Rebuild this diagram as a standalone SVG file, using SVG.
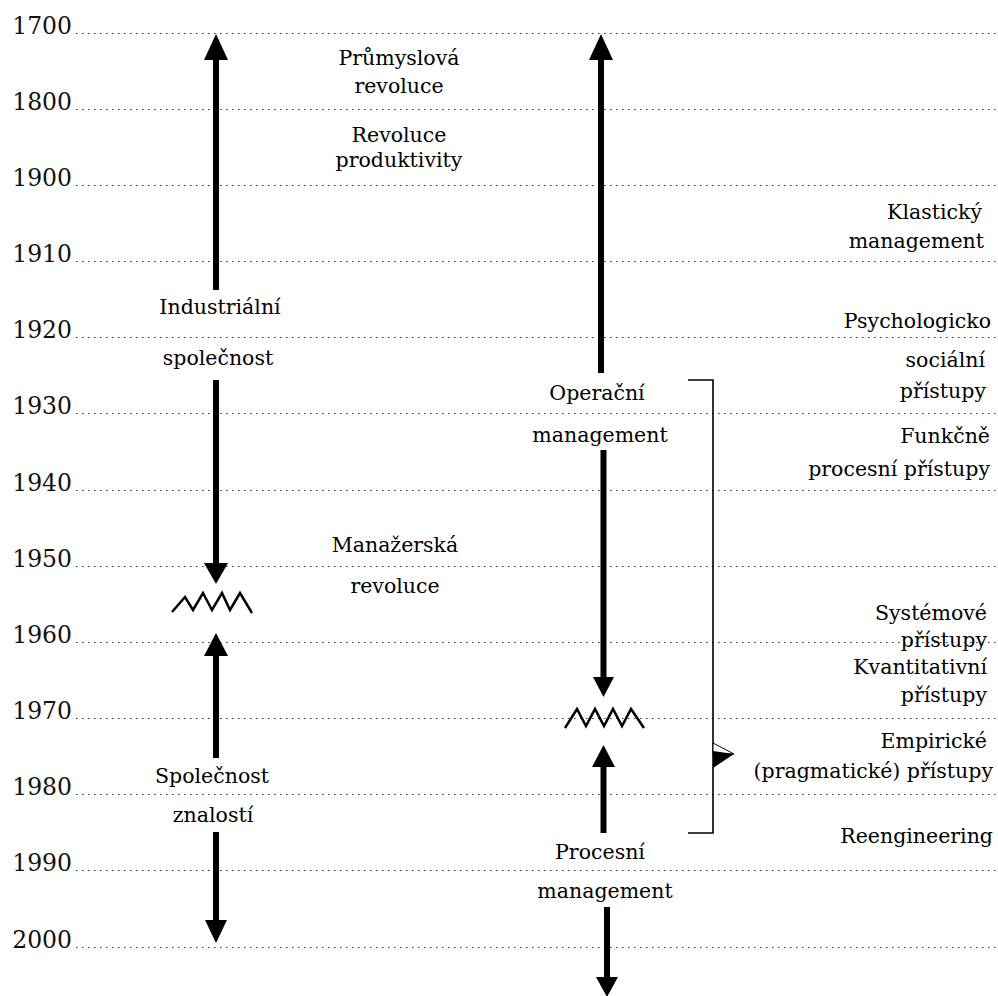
<svg xmlns="http://www.w3.org/2000/svg" width="998" height="996" viewBox="0 0 998 996">
  <style>
    .grid { stroke: #333; stroke-width: 1; stroke-dasharray: 1.5 4.5; fill: none; }
    .yr { font-family: "DejaVu Serif", serif; font-size: 23.5px; fill: #111; text-anchor: end; }
    .lbl { font-family: "DejaVu Serif", serif; font-size: 20.5px; fill: #000; }
    .mid { text-anchor: middle; }
    .end { text-anchor: end; }
    .shaft { stroke: #000; stroke-width: 6; fill: none; }
    .head { fill: #000; }
    .zig { fill: none; stroke: #000; stroke-width: 2.5; stroke-linejoin: miter; }
    .bracket { fill: none; stroke: #000; stroke-width: 1.6; }
  </style>

  <rect width="998" height="996" fill="#fff"/>

  <!-- time axis: year labels and dotted guide lines -->
  <g id="axis">
    <g id="grid-lines">
      <line class="grid" x1="76" y1="33.5" x2="998" y2="33.5"/>
      <line class="grid" x1="76" y1="109.5" x2="998" y2="109.5"/>
      <line class="grid" x1="76" y1="185.5" x2="998" y2="185.5"/>
      <line class="grid" x1="76" y1="261.5" x2="998" y2="261.5"/>
      <line class="grid" x1="76" y1="337.5" x2="998" y2="337.5"/>
      <line class="grid" x1="76" y1="413.5" x2="998" y2="413.5"/>
      <line class="grid" x1="76" y1="490.5" x2="998" y2="490.5"/>
      <line class="grid" x1="76" y1="566.5" x2="998" y2="566.5"/>
      <line class="grid" x1="76" y1="642.5" x2="998" y2="642.5"/>
      <line class="grid" x1="76" y1="718.5" x2="998" y2="718.5"/>
      <line class="grid" x1="76" y1="794.5" x2="998" y2="794.5"/>
      <line class="grid" x1="76" y1="870.5" x2="998" y2="870.5"/>
      <line class="grid" x1="76" y1="947.5" x2="998" y2="947.5"/>
    </g>
    <g id="years">
      <text class="yr" x="72" y="34">1700</text>
      <text class="yr" x="72" y="110">1800</text>
      <text class="yr" x="72" y="186">1900</text>
      <text class="yr" x="72" y="262">1910</text>
      <text class="yr" x="72" y="338">1920</text>
      <text class="yr" x="72" y="414">1930</text>
      <text class="yr" x="72" y="491">1940</text>
      <text class="yr" x="72" y="567">1950</text>
      <text class="yr" x="72" y="643">1960</text>
      <text class="yr" x="72" y="719">1970</text>
      <text class="yr" x="72" y="795">1980</text>
      <text class="yr" x="72" y="871">1990</text>
      <text class="yr" x="72" y="948">2000</text>
    </g>
  </g>

  <!-- arrows, breaks and the bracket -->
  <g id="connectors">
    <!-- society column -->
    <line class="shaft" x1="216" y1="56" x2="216" y2="290"/>
    <polygon class="head" points="216,34 228,60 204,60"/>
    <line class="shaft" x1="216" y1="380" x2="216" y2="568"/>
    <polygon class="head" points="216,584 228,563 204,563"/>
    <polyline class="zig" points="172,612 185,597 193,610 203,593 212,610 222,593 230,610 240,593 252,613"/>
    <polygon class="head" points="216,633 228,656 204,656"/>
    <line class="shaft" x1="216" y1="652" x2="216" y2="758"/>
    <line class="shaft" x1="216" y1="832" x2="216" y2="924"/>
    <polygon class="head" points="216,943 227,920 205,920"/>

    <!-- management column -->
    <line class="shaft" x1="601" y1="56" x2="601" y2="373"/>
    <polygon class="head" points="601,34 613,60 589,60"/>
    <line class="shaft" x1="603.5" y1="450" x2="603.5" y2="681"/>
    <polygon class="head" points="603.5,697 614,677 593,677"/>
    <polyline class="zig" points="565,728 577,709 586,726 595,709 604,726 613,709 622,726 631,709 644,728"/>
    <polygon class="head" points="603.5,745 615,767 592,767"/>
    <line class="shaft" x1="603.5" y1="763" x2="603.5" y2="833"/>
    <line class="shaft" x1="607" y1="907" x2="607" y2="981"/>
    <polygon class="head" points="607,997 618,977 596,977"/>

    <!-- bracket spanning the approaches -->
    <polyline class="bracket" points="688,380 713,380 713,833 688,833"/>
    <polygon points="713,743 734,754 713,754" fill="#fff" stroke="#000" stroke-width="1"/>
    <polygon points="713,751 734,754 713,768" fill="#000"/>
  </g>

  <!-- society column labels -->
  <g id="industrialni-spolecnost">
    <text class="lbl mid" x="220" y="314">Industriální</text>
    <text class="lbl mid" x="218" y="365">společnost</text>
  </g>
  <g id="spolecnost-znalosti">
    <text class="lbl mid" x="212" y="783">Společnost</text>
    <text class="lbl mid" x="213" y="822">znalostí</text>
  </g>

  <!-- revolutions column -->
  <g id="prumyslova-revoluce">
    <text class="lbl mid" x="399" y="65">Průmyslová</text>
    <text class="lbl mid" x="399" y="93">revoluce</text>
  </g>
  <g id="revoluce-produktivity">
    <text class="lbl mid" x="399" y="142">Revoluce</text>
    <text class="lbl mid" x="399" y="167">produktivity</text>
  </g>
  <g id="manazerska-revoluce">
    <text class="lbl mid" x="395" y="552">Manažerská</text>
    <text class="lbl mid" x="395" y="593">revoluce</text>
  </g>

  <!-- management column labels -->
  <g id="operacni-management">
    <text class="lbl mid" x="597" y="400">Operační</text>
    <text class="lbl mid" x="600" y="442">management</text>
  </g>
  <g id="procesni-management">
    <text class="lbl mid" x="600" y="859">Procesní</text>
    <text class="lbl mid" x="605" y="898">management</text>
  </g>

  <!-- schools of management -->
  <g id="klasicky-management">
    <text class="lbl end" x="982" y="219">Klastický</text>
    <text class="lbl end" x="984" y="248">management</text>
  </g>
  <g id="psychologicko-socialni">
    <text class="lbl end" x="991" y="328">Psychologicko</text>
    <text class="lbl end" x="985" y="367">sociální</text>
    <text class="lbl end" x="986" y="398">přístupy</text>
  </g>
  <g id="funkcne-procesni">
    <text class="lbl end" x="990" y="443">Funkčně</text>
    <text class="lbl end" x="990" y="476">procesní přístupy</text>
  </g>
  <g id="systemove">
    <text class="lbl end" x="987" y="620">Systémové</text>
    <text class="lbl end" x="987" y="647">přístupy</text>
  </g>
  <g id="kvantitativni">
    <text class="lbl end" x="987" y="674">Kvantitativní</text>
    <text class="lbl end" x="987" y="702">přístupy</text>
  </g>
  <g id="empiricke">
    <text class="lbl end" x="987" y="748">Empirické</text>
    <text class="lbl end" x="993" y="778">(pragmatické) přístupy</text>
  </g>
  <g id="reengineering">
    <text class="lbl end" x="993" y="843">Reengineering</text>
  </g>
</svg>
